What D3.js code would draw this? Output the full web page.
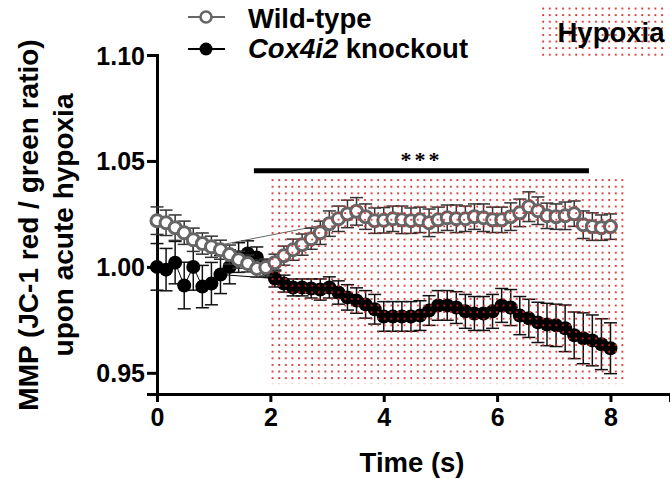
<!doctype html>
<html lang="en">
<head>
<meta charset="UTF-8">
<title>MMP upon acute hypoxia</title>
<style>
  body { margin: 0; background: #fff; }
  svg text { font-family: "Liberation Sans", Arial, sans-serif; font-weight: bold; fill: #000; }
</style>
</head>
<body>
<div id="chart"></div>
<script src="https://d3js.org/d3.v7.min.js"></script>
<script>
// time points (s)
const times = [0, 0.16, 0.32, 0.48, 0.64, 0.8, 0.96, 1.12, 1.28, 1.44, 1.6, 1.76, 1.92, 2.08, 2.24, 2.4, 2.56,
  2.72, 2.88, 3.04, 3.2, 3.36, 3.52, 3.68, 3.84, 4.0, 4.16, 4.32, 4.48, 4.64, 4.8, 4.96, 5.12, 5.28, 5.44,
  5.6, 5.76, 5.92, 6.08, 6.24, 6.4, 6.56, 6.72, 6.88, 7.04, 7.2, 7.36, 7.52, 7.68, 7.84, 8.0]

const wtMean = [1.0218, 1.0208, 1.0185, 1.0161, 1.0128, 1.0110, 1.0095, 1.0081, 1.0058, 1.0034, 1.0016, 0.9992,
  0.9997, 1.0020, 1.0053, 1.0081, 1.0105, 1.0133, 1.0161, 1.0204, 1.0227, 1.0250, 1.0262, 1.0237, 1.0218,
  1.0220, 1.0227, 1.0222, 1.0218, 1.0222, 1.0208, 1.0222, 1.0232, 1.0227, 1.0227, 1.0237, 1.0232, 1.0222,
  1.0222, 1.0237, 1.0255, 1.0284, 1.0265, 1.0241, 1.0237, 1.0241, 1.0251, 1.0199, 1.0190, 1.0185, 1.0190]
const wtSem = [0.0065, 0.006, 0.006, 0.0055, 0.0055, 0.005, 0.005, 0.0045, 0.0045, 0.004, 0.004, 0.004, 0.004,
  0.004, 0.0045, 0.005, 0.005, 0.005, 0.0055, 0.006, 0.006, 0.0065, 0.0065, 0.006, 0.006, 0.006, 0.006, 0.0065,
  0.006, 0.006, 0.0065, 0.006, 0.006, 0.0065, 0.006, 0.006, 0.0065, 0.006, 0.006, 0.0065, 0.0065, 0.007, 0.0065,
  0.006, 0.006, 0.0065, 0.006, 0.0065, 0.0065, 0.006, 0.006]

const koMean = [1.0000, 0.9987, 1.0020, 0.9912, 1.0000, 0.9907, 0.9921, 0.9964, 1.0000, 1.0044, 1.0063, 1.0044,
  0.9992, 0.9945, 0.9921, 0.9903, 0.9903, 0.9898, 0.9893, 0.9903, 0.9879, 0.9856, 0.9841, 0.9823, 0.9800,
  0.9766, 0.9766, 0.9766, 0.9766, 0.9770, 0.9794, 0.9818, 0.9818, 0.9808, 0.9790, 0.9780, 0.9780, 0.9790,
  0.9818, 0.9808, 0.9770, 0.9757, 0.9738, 0.9728, 0.9724, 0.9710, 0.9677, 0.9663, 0.9653, 0.9635, 0.9616]
const koSem = [0.011, 0.010, 0.010, 0.011, 0.011, 0.010, 0.010, 0.009, 0.008, 0.007, 0.006, 0.005, 0.004, 0.004,
  0.004, 0.004, 0.004, 0.0045, 0.005, 0.005, 0.0055, 0.006, 0.006, 0.0065, 0.007, 0.007, 0.007, 0.007, 0.007,
  0.007, 0.007, 0.007, 0.007, 0.0075, 0.008, 0.008, 0.008, 0.008, 0.008, 0.0085, 0.009, 0.009, 0.0095, 0.010,
  0.010, 0.011, 0.011, 0.012, 0.012, 0.012, 0.012]

// stray connecting segments (index pairs)
const wtJump = [6, 19]
const koJump = [7, 13]

const xTicks = [0, 2, 4, 6, 8]
const yTicks = [0.95, 1.00, 1.05, 1.10]
const hypoxiaT = [2, 8.25]
const hypoxiaY = [0.9447, 1.0415]
const sigT = [1.71, 7.62]
const sigY = 1.0454

const width = 670
const height = 479

const svg = d3.select('#chart').append('svg')
  .attr('width', width)
  .attr('height', height)

const x = d3.scaleLinear().domain([0, 9.05]).range([157, 670])
const y = d3.scaleLinear().domain([0.94, 1.10]).range([394, 55])

const defs = svg.append('defs')
const pat = defs.append('pattern')
  .attr('id', 'dots')
  .attr('patternUnits', 'userSpaceOnUse')
  .attr('width', 6.6)
  .attr('height', 6.6)
pat.append('circle').attr('cx', 2).attr('cy', 2).attr('r', 1.1).attr('fill', '#d02424')

// axes
const xAxis = d3.axisBottom(x).tickValues(xTicks).tickFormat(d3.format('d')).tickSizeOuter(0).tickSize(8).tickPadding(6)
const gx = svg.append('g').attr('transform', 'translate(0,394)').call(xAxis)
const yAxis = d3.axisLeft(y).tickValues(yTicks).tickFormat(d3.format('.2f')).tickSizeOuter(0).tickSize(10).tickPadding(2)
const gy = svg.append('g').attr('transform', 'translate(157,0)').call(yAxis)

for (const g of [gx, gy]) {
  g.select('.domain').attr('stroke', '#000').attr('stroke-width', 3)
  g.selectAll('.tick line').attr('stroke', '#000').attr('stroke-width', 3)
  g.selectAll('.tick text').attr('font-size', 25).attr('font-family', '"Liberation Sans", Arial, sans-serif')
    .attr('font-weight', 'bold').attr('fill', '#000')
}
gy.selectAll('.tick text').attr('dy', '0.36em')

svg.append('text')
  .attr('x', x(4.5)).attr('y', 472)
  .attr('text-anchor', 'middle')
  .attr('font-size', 27.5)
  .text('Time (s)')

const yt = svg.append('text')
  .attr('transform', 'translate(0,225) rotate(-90)')
  .attr('text-anchor', 'middle')
  .attr('font-size', 28)
yt.append('tspan').attr('x', 0).attr('y', 38).text('MMP (JC-1 red / green ratio)')
yt.append('tspan').attr('x', 0).attr('y', 73).text('upon acute hypoxia')

// series
function drawSeries(mean, sem, jump, opts) {
  const g = svg.append('g')
  const pts = times.map((t, i) => ({ t, m: mean[i], s: sem[i] }))

  g.append('path')
    .datum(pts)
    .attr('fill', 'none')
    .attr('stroke', opts.line)
    .attr('stroke-width', 1)
    .attr('d', d3.line().x(d => x(d.t)).y(d => y(d.m)))

  g.append('line')
    .attr('x1', x(pts[jump[0]].t)).attr('y1', y(pts[jump[0]].m))
    .attr('x2', x(pts[jump[1]].t)).attr('y2', y(pts[jump[1]].m))
    .attr('stroke', opts.line).attr('stroke-width', 1)

  const eb = g.append('g').attr('stroke', opts.err).attr('stroke-width', 1.5)
  pts.forEach(d => {
    eb.append('line').attr('x1', x(d.t)).attr('x2', x(d.t)).attr('y1', y(d.m - d.s)).attr('y2', y(d.m + d.s))
    eb.append('line').attr('x1', x(d.t) - 6.5).attr('x2', x(d.t) + 6.5).attr('y1', y(d.m + d.s)).attr('y2', y(d.m + d.s))
    eb.append('line').attr('x1', x(d.t) - 6.5).attr('x2', x(d.t) + 6.5).attr('y1', y(d.m - d.s)).attr('y2', y(d.m - d.s))
  })

  g.selectAll('circle')
    .data(pts)
    .enter()
    .append('circle')
    .attr('cx', d => x(d.t))
    .attr('cy', d => y(d.m))
    .attr('r', opts.r)
    .attr('fill', opts.fill)
    .attr('stroke', opts.stroke)
    .attr('stroke-width', opts.sw)
}

drawSeries(koMean, koSem, koJump, { line: '#000', err: '#111', r: 7, fill: '#000', stroke: 'none', sw: 0 })
drawSeries(wtMean, wtSem, wtJump, { line: '#666', err: '#333', r: 6, fill: '#fff', stroke: '#666', sw: 3 })

// hypoxia period, dotted overlay
svg.append('rect')
  .attr('x', x(hypoxiaT[0]))
  .attr('y', y(hypoxiaY[1]))
  .attr('width', x(hypoxiaT[1]) - x(hypoxiaT[0]))
  .attr('height', y(hypoxiaY[0]) - y(hypoxiaY[1]))
  .attr('fill', 'url(#dots)')

// significance bar
svg.append('line')
  .attr('x1', x(sigT[0])).attr('x2', x(sigT[1]))
  .attr('y1', y(sigY)).attr('y2', y(sigY))
  .attr('stroke', '#000').attr('stroke-width', 5)
svg.append('text')
  .attr('x', x((sigT[0] + sigT[1]) / 2)).attr('y', y(sigY) - 4)
  .attr('text-anchor', 'middle')
  .attr('font-size', 22)
  .attr('font-weight', 'normal')
  .attr('letter-spacing', 3)
  .style('font-family', '"Liberation Serif", serif')
  .text('***')

// legend
const leg = svg.append('g')
leg.append('line').attr('x1', 188).attr('x2', 225).attr('y1', 17).attr('y2', 17).attr('stroke', '#666').attr('stroke-width', 2)
leg.append('circle').attr('cx', 206).attr('cy', 17).attr('r', 5.5).attr('fill', '#fff').attr('stroke', '#666').attr('stroke-width', 2.6)
leg.append('text').attr('x', 248).attr('y', 28).attr('font-size', 27.5).text('Wild-type')

leg.append('line').attr('x1', 188).attr('x2', 225).attr('y1', 49).attr('y2', 49).attr('stroke', '#000').attr('stroke-width', 2)
leg.append('circle').attr('cx', 206).attr('cy', 49).attr('r', 6.5).attr('fill', '#000')
const t2 = leg.append('text').attr('x', 248).attr('y', 58).attr('font-size', 27.5)
t2.append('tspan').attr('font-style', 'italic').text('Cox4i2')
t2.append('tspan').text(' knockout')

leg.append('rect').attr('x', 541).attr('y', 6).attr('width', 125).attr('height', 52).attr('fill', 'url(#dots)')
leg.append('text').attr('x', 611).attr('y', 42).attr('text-anchor', 'middle').attr('font-size', 27.5).text('Hypoxia')
</script>
</body>
</html>
